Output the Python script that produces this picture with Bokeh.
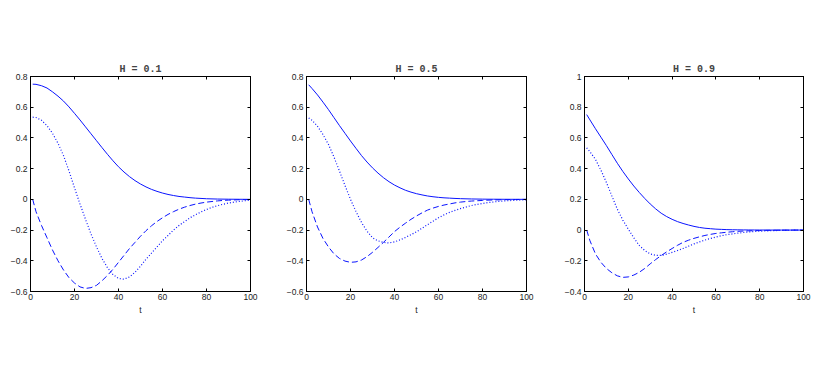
from bokeh.plotting import figure
from bokeh.layouts import row
from bokeh.models import LinearAxis, FixedTicker, CustomJSTickFormatter, Range1d
from bokeh.embed import file_html
from bokeh.resources import INLINE

T = [1, 2.5, 5, 7.5, 10, 12.5, 15, 17.5, 20, 22.5, 25, 27.5, 30, 32.5, 35, 37.5, 40, 42.5, 45, 47.5,
     50, 52.5, 55, 57.5, 60, 62.5, 65, 67.5, 70, 72.5, 75, 77.5, 80, 82.5, 85, 87.5, 90, 92.5, 95, 97.5, 100]

H01_solid = [0.750, 0.749, 0.740, 0.725, 0.700, 0.672, 0.640, 0.602, 0.560, 0.517, 0.472, 0.427, 0.382, 0.337,
             0.293, 0.251, 0.212, 0.178, 0.148, 0.122, 0.100, 0.081, 0.065, 0.052, 0.041, 0.032, 0.025, 0.019,
             0.015, 0.011, 0.008, 0.006, 0.004, 0.003, 0.002, 0.0015, 0.001, 0.0007, 0.0004, 0.0002, 0.0]
H01_dashed = [0.0, -0.08, -0.17, -0.25, -0.33, -0.40, -0.46, -0.51, -0.545, -0.570, -0.580, -0.575, -0.560, -0.530,
              -0.495, -0.455, -0.410, -0.365, -0.320, -0.280, -0.240, -0.204, -0.172, -0.144, -0.120, -0.098, -0.080,
              -0.064, -0.051, -0.040, -0.031, -0.024, -0.018, -0.014, -0.010, -0.007, -0.005, -0.004, -0.002, -0.0015, -0.001]
H01_dotted = [0.535, 0.533, 0.515, 0.48, 0.43, 0.365, 0.285, 0.185, 0.075, -0.03, -0.13, -0.225, -0.31, -0.385,
              -0.445, -0.49, -0.515, -0.52, -0.505, -0.475, -0.435, -0.39, -0.35, -0.31, -0.27, -0.235, -0.20,
              -0.17, -0.145, -0.12, -0.10, -0.082, -0.066, -0.052, -0.041, -0.032, -0.024, -0.018, -0.013, -0.009, -0.006]

H05_solid = [0.746, 0.722, 0.68, 0.633, 0.584, 0.532, 0.48, 0.43, 0.38, 0.332, 0.285, 0.243, 0.205, 0.171,
             0.141, 0.115, 0.093, 0.075, 0.059, 0.047, 0.037, 0.029, 0.022, 0.017, 0.013, 0.010, 0.008, 0.006,
             0.0045, 0.0035, 0.0026, 0.002, 0.0015, 0.001, 0.0008, 0.0006, 0.0004, 0.0003, 0.0002, 0.0001, 0.0]
H05_dashed = [0.0, -0.08, -0.18, -0.255, -0.31, -0.355, -0.385, -0.402, -0.41, -0.407, -0.395, -0.373, -0.345, -0.313,
              -0.28, -0.245, -0.21, -0.181, -0.155, -0.13, -0.108, -0.088, -0.07, -0.057, -0.046, -0.037, -0.03,
              -0.023, -0.018, -0.014, -0.011, -0.009, -0.007, -0.005, -0.004, -0.003, -0.002, -0.0015, -0.001, -0.0005, 0.0]
H05_dotted = [0.53, 0.515, 0.476, 0.422, 0.357, 0.275, 0.184, 0.09, 0.0, -0.08, -0.15, -0.207, -0.25, -0.27,
              -0.28, -0.284, -0.277, -0.264, -0.248, -0.23, -0.211, -0.188, -0.165, -0.142, -0.12, -0.101, -0.085,
              -0.072, -0.06, -0.05, -0.04, -0.033, -0.027, -0.021, -0.017, -0.013, -0.01, -0.008, -0.006, -0.004, -0.003]

H09_solid = [0.752, 0.717, 0.66, 0.605, 0.55, 0.492, 0.435, 0.382, 0.333, 0.287, 0.245, 0.206, 0.17, 0.138,
             0.11, 0.088, 0.07, 0.055, 0.043, 0.033, 0.024, 0.017, 0.012, 0.009, 0.006, 0.0045, 0.003, 0.002,
             0.0015, 0.001, 0.0007, 0.0005, 0.0003, 0.0002, 0.0001, 0.0, 0.0, 0.0, 0.0, 0.0, 0.0]
H09_dashed = [0.0, -0.07, -0.155, -0.21, -0.25, -0.278, -0.298, -0.308, -0.305, -0.293, -0.275, -0.25, -0.22, -0.192,
              -0.166, -0.142, -0.12, -0.099, -0.08, -0.066, -0.054, -0.044, -0.035, -0.028, -0.022, -0.018, -0.014,
              -0.011, -0.008, -0.0065, -0.005, -0.004, -0.003, -0.002, -0.0015, -0.001, -0.0007, -0.0005, -0.0003, -0.0001, 0.0]
H09_dotted = [0.535, 0.51, 0.46, 0.39, 0.31, 0.222, 0.136, 0.065, 0.006, -0.05, -0.10, -0.133, -0.155, -0.165,
              -0.165, -0.157, -0.145, -0.133, -0.12, -0.105, -0.09, -0.077, -0.065, -0.055, -0.045, -0.037, -0.03,
              -0.025, -0.02, -0.016, -0.012, -0.009, -0.007, -0.0055, -0.004, -0.003, -0.002, -0.0015, -0.001, -0.0005, 0.0]

TITLES = ["H = 0.1", "H = 0.5", "H = 0.9"]
X_TICKS = [0, 20, 40, 60, 80, 100]
Y_RANGES = [(-0.6, 0.8), (-0.6, 0.8), (-0.4, 1.0)]
Y_TICKS = [
    [-0.6, -0.4, -0.2, 0, 0.2, 0.4, 0.6, 0.8],
    [-0.6, -0.4, -0.2, 0, 0.2, 0.4, 0.6, 0.8],
    [-0.4, -0.2, 0, 0.2, 0.4, 0.6, 0.8, 1.0],
]
SERIES = [
    (H01_solid, H01_dashed, H01_dotted),
    (H05_solid, H05_dashed, H05_dotted),
    (H09_solid, H09_dashed, H09_dotted),
]

# layout: (width, min_border_left, min_border_right)
LAYOUT = [(278, 30, 28), (278, 28, 30), (258, 28, 11)]

yfmt = CustomJSTickFormatter(code="""
if (Math.abs(tick) < 1e-9) return '0';
if (Math.abs(tick - 1) < 1e-9) return '1';
return tick.toFixed(1).replace('-', '\u2212');
""")
xfmt = CustomJSTickFormatter(code="return tick.toFixed(0);")
blank = CustomJSTickFormatter(code="return '';")

LINE = "#0a14ff"
LABEL_FONT = "Liberation Sans"
FS = "8.5px"

figs = []
for i in range(3):
    w, bl, br = LAYOUT[i]
    p = figure(width=w, height=371, output_backend="svg", toolbar_location=None,
               x_range=Range1d(0, 100), y_range=Range1d(*Y_RANGES[i]),
               min_border_left=bl, min_border_right=br, min_border_top=76,
               min_border_bottom=80, x_axis_location=None, y_axis_location=None)
    p.title.text = TITLES[i]
    p.title.text_font = "Liberation Mono"
    p.title.text_font_style = "bold"
    p.title.text_font_size = "10px"
    p.title.align = "center"
    p.title.standoff = 4
    p.outline_line_color = "black"
    p.outline_line_width = 1
    p.grid.visible = False
    p.background_fill_color = "white"
    p.border_fill_color = "white"

    xt = FixedTicker(ticks=X_TICKS, minor_ticks=[])
    yt = FixedTicker(ticks=Y_TICKS[i], minor_ticks=[])

    xb = LinearAxis(ticker=xt, formatter=xfmt, axis_label="t")
    xa = LinearAxis(ticker=xt, formatter=blank)
    yl = LinearAxis(ticker=yt, formatter=yfmt)
    yr = LinearAxis(ticker=yt, formatter=blank)
    for ax in (xb, xa, yl, yr):
        ax.major_tick_in = 3
        ax.major_tick_out = 0
        ax.minor_tick_in = 0
        ax.minor_tick_out = 0
        ax.axis_line_color = "black"
        ax.major_tick_line_color = "black"
        ax.major_label_text_font = LABEL_FONT
        ax.major_label_text_font_size = FS
        ax.major_label_text_color = "#222222"
        ax.major_label_standoff = 3
        ax.axis_label_text_font = LABEL_FONT
        ax.axis_label_text_font_size = FS
        ax.axis_label_text_font_style = "normal"
        ax.axis_label_text_color = "#222222"
        ax.axis_label_standoff = 2
    xb.major_label_standoff = 2
    for ax in (xa, yr):
        ax.major_label_text_font_size = "0px"
        ax.major_label_standoff = 0
    p.add_layout(xb, "below")
    p.add_layout(xa, "above")
    p.add_layout(yl, "left")
    p.add_layout(yr, "right")

    s, d, o = SERIES[i]
    p.line(T, s, line_color=LINE, line_width=1)
    p.line(T, d, line_color=LINE, line_width=1, line_dash="6 3")
    p.line(T, o, line_color=LINE, line_width=1.2, line_dash="1 2")
    figs.append(p)

layout = row(*figs)
open("out.html", "w").write(file_html(layout, INLINE))
